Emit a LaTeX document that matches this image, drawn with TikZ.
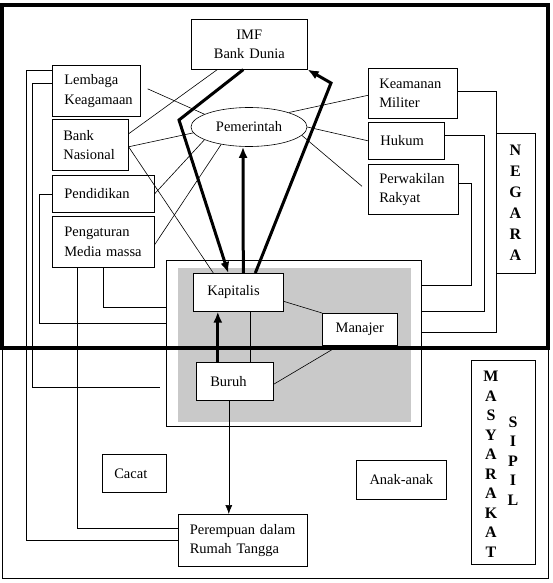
\documentclass[tikz,border=0pt]{standalone}
\usepackage{fontspec}
\setmainfont{Liberation Serif}
\usetikzlibrary{shapes.geometric,arrows.meta}
\begin{document}
\begin{tikzpicture}[x=1pt,y=-1pt,
  kotak/.style={draw, fill=white, line width=0.6pt, anchor=north west, align=left, inner xsep=12pt, inner ysep=0pt, font=\fontsize{14.5}{19.5}\selectfont},
  tengah/.style={kotak, align=center},
  garis/.style={line width=0.6pt},
  tebal/.style={line width=3pt},
  panah/.style={-{Latex[length=11pt,width=9pt]}},
  huruf/.style={align=center, inner sep=0pt, font=\fontsize{16}{21}\selectfont\bfseries}]
\useasboundingbox (0,0) rectangle (552,583);
\draw[line width=0.8pt] (2,5) rectangle (548,578);

\node[draw, garis, anchor=north west, inner sep=0pt, minimum width=255pt, minimum height=166pt] (inti) at (166,260) {};
\fill[gray!42] (178,268) rectangle (411,422);

\node[tengah, text width=92pt, minimum height=50pt] (imf) at (191,19) {IMF\\Bank Dunia};
\node[kotak, text width=64pt, minimum height=51pt] (lembaga) at (52,65) {Lembaga\\Keagamaan};
\node[kotak, inner xsep=11pt, text width=54pt, minimum height=51pt] (bank) at (52,119) {Bank\\Nasional};
\node[kotak, text width=78pt, minimum height=37pt] (pendidikan) at (52,175) {Pendidikan};
\node[kotak, text width=78pt, minimum height=51pt] (pengaturan) at (52,216) {Pengaturan\\Media massa};
\node[draw, garis, ellipse, inner sep=0pt, minimum width=116pt, minimum height=39pt, font=\fontsize{14.5}{19.5}\selectfont] (pemerintah) at (249,127) {Pemerintah};
\node[kotak, inner xsep=11pt, text width=67pt, minimum height=50pt] (keamanan) at (368,68) {Keamanan\\Militer};
\node[kotak, text width=52pt, minimum height=37pt] (hukum) at (368,122) {Hukum};
\node[kotak, inner xsep=11pt, text width=68pt, minimum height=50pt] (perwakilan) at (368,164) {Perwakilan\\Rakyat};
\node[draw, garis, huruf, minimum width=39pt, minimum height=140pt] (negara) at (515.5,203) {N\\E\\G\\A\\R\\A};

\node[kotak, inner xsep=14pt, text width=62pt, minimum height=38pt] (kapitalis) at (193,273) {Kapitalis};
\node[tengah, text width=51pt, minimum height=32pt] (manajer) at (322,313) {Manajer};
\node[kotak, inner xsep=14pt, text width=49pt, minimum height=38pt] (buruh) at (196,362) {Buruh};
\node[kotak, text width=40pt, minimum height=38pt] (cacat) at (102,454) {Cacat};
\node[kotak, inner xsep=11.5pt, text width=106pt, minimum height=52pt] (perempuan) at (178,514) {Perempuan dalam\\Rumah Tangga};
\node[tengah, text width=66pt, minimum height=39pt] (anak) at (356,460) {Anak-anak};

\node[draw, garis, minimum width=64pt, minimum height=204pt, inner sep=0pt] (masyarakat) at (503,462) {};
\node[huruf, font=\fontsize{16}{19.5}\selectfont\bfseries] (masy) at (491,464.5) {M\\A\\S\\Y\\A\\R\\A\\K\\A\\T};
\node[huruf, font=\fontsize{16}{19.5}\selectfont\bfseries] (sipil) at (513,461) {S\\I\\P\\I\\L};

\coordinate (ujung) at (160,387);
\draw[garis] ([yshift=20pt]lembaga.west) -- ++(-26,0) |- (perempuan.west);
\draw[garis] ([yshift=7pt]lembaga.west) -- ++(-20,0) |- (ujung);
\draw[garis] (pendidikan.west) -- ++(-13,0) |- ([yshift=20pt]inti.west);
\draw[garis] (pengaturan.south) |- ([yshift=36pt]inti.west);
\draw[garis] ([xshift=-26pt]pengaturan.south) |- ([yshift=12pt]perempuan.west);
\draw[garis] ([yshift=2pt]keamanan.east) -- ++(39,0) |- ([yshift=11pt]inti.east);
\draw[garis] ([yshift=6pt]hukum.east) -- ++(40,0) |- ([yshift=32pt]inti.east);
\draw[garis] ([yshift=6pt]perwakilan.east) -- ++(13,0) |- ([yshift=58pt]inti.east);

\draw[garis] ([xshift=7pt,yshift=2pt]lembaga.east) -- (pemerintah.164);
\draw[garis] ([yshift=11pt]bank.east) -- ([xshift=-32pt]imf.south);
\draw[garis] ([yshift=-2pt]bank.east) -- (pemerintah.186);
\draw[garis] ([yshift=-2pt]bank.east) -- ([xshift=-25pt]kapitalis.north);
\draw[garis] (pendidikan.east) -- (pemerintah.196);
\draw[garis] ([yshift=-3pt]pengaturan.east) -- (pemerintah.212);
\draw[garis] (pemerintah.20) -- ([yshift=-2pt]keamanan.west);
\draw[garis] (pemerintah.east) -- (hukum.west);
\draw[garis] (pemerintah.351) -- ([xshift=-6pt,yshift=3pt]perwakilan.west);

\draw[tebal, panah] ([xshift=-6pt]imf.south) -- (179,120) -- ([xshift=-10pt]kapitalis.north);
\draw[tebal, panah] ([xshift=5pt]kapitalis.north) -- ([xshift=-6pt]pemerintah.south);
\draw[tebal, panah] ([xshift=17pt]kapitalis.north) -- (331,83) -- (imf.south east);
\draw[tebal, panah] ([xshift=-17pt]buruh.north) -- ([xshift=-17pt]buruh.north |- kapitalis.south);
\draw[garis] ([xshift=12pt]kapitalis.south) -- ([xshift=12pt]kapitalis.south |- buruh.north);
\draw[garis, -{Latex[length=9pt,width=7pt]}] ([xshift=-6pt]buruh.south) -- ([xshift=-6pt]buruh.south |- perempuan.north);
\draw[garis] ([yshift=-9pt]kapitalis.east) -- (manajer.north west);
\draw[garis] ([yshift=-3pt]buruh.east) -- ([xshift=-21pt]manajer.south);

\draw[line width=4pt] (2,5) rectangle (548,348);
\end{tikzpicture}
\end{document}
